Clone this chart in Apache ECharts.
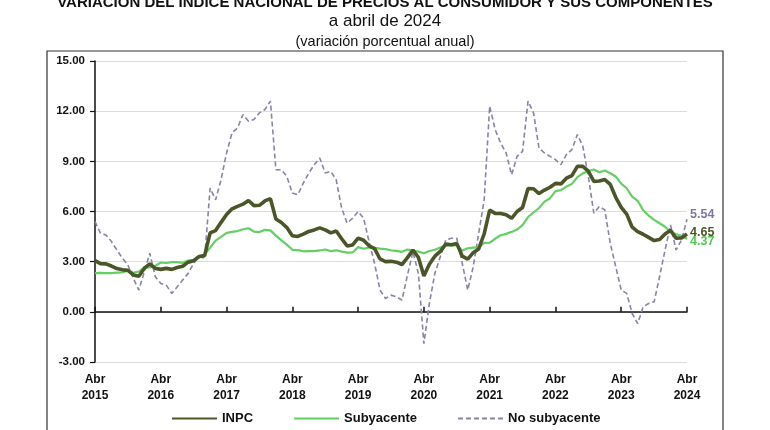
<!DOCTYPE html>
<html><head><meta charset="utf-8">
<script src="https://cdn.jsdelivr.net/npm/echarts@6/dist/echarts.min.js"></script>
<style>html,body{margin:0;padding:0;background:#fff}#c{width:770px;height:430px}</style>
</head><body><div id="c"></div>
<script>
var monthNames = ['Ene','Feb','Mar','Abr','May','Jun','Jul','Ago','Sep','Oct','Nov','Dic'];
var startYear = 2015, startMonth = 3, nMonths = 109;
var categories = [];
for (var i = 0; i < nMonths; i++) {
  var m = (startMonth + i) % 12, y = startYear + Math.floor((startMonth + i) / 12);
  categories.push(monthNames[m] + '\n' + y);
}
var inpc = [3.06,2.88,2.87,2.74,2.59,2.52,2.48,2.21,2.13,
  2.61,2.87,2.60,2.54,2.60,2.54,2.65,2.73,2.97,3.06,3.31,3.36,
  4.72,4.86,5.35,5.82,6.16,6.31,6.44,6.66,6.35,6.37,6.63,6.77,
  5.55,5.34,5.04,4.55,4.51,4.65,4.81,4.90,5.02,4.90,4.72,4.83,
  4.37,3.94,4.00,4.41,4.28,3.95,3.78,3.16,3.00,3.02,2.97,2.83,
  3.24,3.70,3.25,2.15,2.84,3.33,3.62,4.05,4.01,4.09,3.33,3.15,
  3.54,3.76,4.67,6.08,5.89,5.88,5.81,5.59,6.00,6.24,7.37,7.36,
  7.07,7.28,7.45,7.68,7.65,7.99,8.15,8.70,8.70,8.41,7.80,7.82,
  7.91,7.62,6.85,6.25,5.84,5.06,4.79,4.64,4.45,4.26,4.32,4.66,
  4.88,4.40,4.42,4.65];
var subyacente = [2.31,2.33,2.32,2.31,2.34,2.36,2.47,2.34,2.41,
  2.64,2.66,2.75,2.95,2.92,2.97,2.97,2.93,3.07,3.10,3.29,3.44,
  3.84,4.26,4.48,4.72,4.78,4.83,4.94,5.00,4.80,4.77,4.90,4.87,
  4.56,4.27,4.02,3.71,3.69,3.62,3.63,3.63,3.67,3.73,3.63,3.68,
  3.60,3.54,3.55,3.87,3.77,3.85,3.82,3.78,3.75,3.68,3.65,3.59,
  3.73,3.66,3.60,3.50,3.64,3.71,3.85,3.97,3.99,3.98,3.66,3.80,
  3.84,3.87,4.12,4.13,4.37,4.58,4.66,4.78,4.92,5.19,5.67,5.94,
  6.21,6.59,6.78,7.22,7.28,7.49,7.65,8.05,8.28,8.42,8.51,8.35,
  8.45,8.29,8.09,7.67,7.39,6.89,6.64,6.08,5.76,5.50,5.30,5.09,
  4.76,4.64,4.55,4.37];
var noSubyacente = [5.4,4.7,4.6,4.2,3.7,3.2,2.8,2.0,1.3,
  2.4,3.5,2.1,1.7,1.6,1.1,1.5,1.9,2.3,2.9,3.3,3.2,
  7.4,6.7,7.9,9.5,10.7,11.0,11.8,11.4,11.5,11.9,12.1,12.6,
  8.5,8.5,8.1,7.1,7.0,7.7,8.3,8.8,9.2,8.3,8.4,7.9,
  6.2,5.3,5.6,6.0,5.6,4.2,2.9,1.3,0.8,1.0,0.9,0.7,
  2.2,3.6,2.3,-1.9,0.5,2.3,3.3,4.3,4.4,4.4,2.9,1.3,
  2.7,4.7,6.7,12.3,10.9,10.1,9.5,8.2,9.3,9.6,12.6,11.9,
  9.8,9.5,9.3,9.1,8.8,9.4,9.7,10.6,9.9,8.1,5.9,6.3,
  6.1,4.1,2.7,1.3,1.1,-0.1,-0.7,0.3,0.5,0.6,2.1,3.7,
  5.2,3.7,4.3,5.54];
var yTicks = {min: -3, max: 15, interval: 3};

var FONT = 'Liberation Sans, Arial, sans-serif';
var cINPC = '#4b5628', cSub = '#62d062', cNo = '#8684a8';
var chart = echarts.init(document.getElementById('c'), null, {renderer: 'canvas'});
chart.setOption({
  backgroundColor: '#fff',
  animation: false,
  textStyle: {fontFamily: FONT},
  title: [
    {text: 'VARIACIÓN DEL ÍNDICE NACIONAL DE PRECIOS AL CONSUMIDOR Y SUS COMPONENTES', left: 'center', top: -10,
     textStyle: {fontSize: 15, fontWeight: 'bold', color: '#111', fontFamily: FONT}},
    {text: 'a abril de 2024', left: 'center', top: 8,
     textStyle: {fontSize: 17, fontWeight: 'normal', color: '#111', fontFamily: FONT}},
    {text: '(variación porcentual anual)', left: 'center', top: 29,
     textStyle: {fontSize: 14.5, fontWeight: 'normal', color: '#111', fontFamily: FONT}}
  ],
  graphic: [{type: 'rect', shape: {x: 47, y: 51, width: 676, height: 400}, style: {fill: 'none', stroke: '#333', lineWidth: 1.2}, silent: true, z: -1}],
  grid: {left: 95, right: 83, top: 61, bottom: 68},
  legend: {
    left: 166, top: 407, itemWidth: 45, itemHeight: 10, itemGap: 40,
    itemStyle: {opacity: 0},
    textStyle: {fontSize: 13, fontWeight: 'bold', color: '#111', fontFamily: FONT},
    data: ['INPC', 'Subyacente', 'No subyacente']
  },
  xAxis: [
    {type: 'category', data: categories, boundaryGap: false, position: 'bottom',
     axisLine: {onZero: true, lineStyle: {color: '#111', width: 1.5}},
     axisTick: {show: true, interval: 11, length: 5, inside: true, lineStyle: {color: '#111', width: 1.5}},
     axisLabel: {show: false}, splitLine: {show: false}},
    {type: 'category', data: categories, boundaryGap: false, position: 'bottom',
     axisLine: {show: false, onZero: false}, axisTick: {show: false},
     axisLabel: {interval: 11, margin: 10, fontSize: 12, fontWeight: 'bold', color: '#111', lineHeight: 16, fontFamily: FONT},
     splitLine: {show: false}}
  ],
  yAxis: {
    type: 'value', min: yTicks.min, max: yTicks.max, interval: yTicks.interval,
    axisLine: {show: true, lineStyle: {color: '#111', width: 1.5}},
    axisTick: {show: true, length: 5, lineStyle: {color: '#111', width: 1.2}},
    axisLabel: {margin: 10, fontSize: 11.5, fontWeight: 'bold', color: '#111', fontFamily: FONT,
      formatter: function (v) { return v.toFixed(2); }},
    splitLine: {show: true, lineStyle: {color: '#dcdcdc', width: 1}}
  },
  series: [
    {name: 'No subyacente', type: 'line', data: noSubyacente, xAxisIndex: 0, symbol: 'none', z: 2,
     lineStyle: {color: cNo, width: 1.6, type: [5, 3]}, itemStyle: {color: cNo},
     endLabel: {show: true, distance: 3, offset: [0, -5], fontSize: 12.5, fontWeight: 'bold', color: '#7a77a6', fontFamily: FONT,
       formatter: function (p) { return p.value.toFixed(2); }}},
    {name: 'Subyacente', type: 'line', data: subyacente, xAxisIndex: 0, symbol: 'none', z: 3,
     lineStyle: {color: cSub, width: 2.2}, itemStyle: {color: cSub},
     endLabel: {show: true, distance: 3, offset: [0, 3], fontSize: 12.5, fontWeight: 'bold', color: '#4fc94f', fontFamily: FONT,
       formatter: function (p) { return p.value.toFixed(2); }}},
    {name: 'INPC', type: 'line', data: inpc, xAxisIndex: 0, symbol: 'none', z: 4,
     lineStyle: {color: cINPC, width: 3.6}, itemStyle: {color: cINPC},
     endLabel: {show: true, distance: 3, offset: [0, -2], fontSize: 12.5, fontWeight: 'bold', color: '#4b5628', fontFamily: FONT,
       formatter: function (p) { return p.value.toFixed(2); }}}
  ]
});
</script></body></html>
